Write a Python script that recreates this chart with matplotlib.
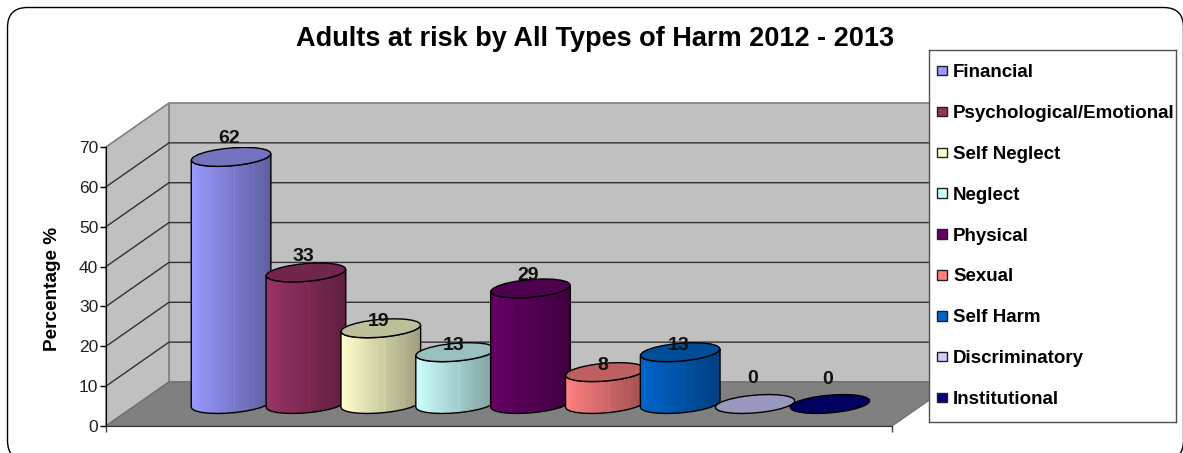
#!/usr/bin/env python3
import numpy as np
import matplotlib
matplotlib.use("Agg")
import matplotlib.pyplot as plt
from matplotlib.patches import FancyBboxPatch, Polygon, Rectangle

harm_types = ["Financial", "Psychological/Emotional", "Self Neglect", "Neglect",
              "Physical", "Sexual", "Self Harm", "Discriminatory", "Institutional"]
percentages = [62, 33, 19, 13, 29, 8, 13, 0, 0]
bar_colors = ["#9999FF", "#993366", "#FFFFCC", "#CCFFFF", "#660066",
              "#FF8080", "#0066CC", "#CCCCFF", "#000080"]
y_ticks = [0, 10, 20, 30, 40, 50, 60, 70]
# how far each value label sits above its cylinder top, in pixels
label_lift = [18.5, 15.5, 6.5, 6.5, 12.5, 6.5, 6.5, 25.5, 24.5]

W, H = 1183, 453
plt.rcParams["font.family"] = ["Liberation Sans", "DejaVu Sans"]

fig = plt.figure(figsize=(W / 100, H / 100), dpi=100, facecolor="white")

# outer rounded border, in pixel coordinates
bg = fig.add_axes([0, 0, 1, 1], zorder=0)
bg.set_xlim(0, W)
bg.set_ylim(H, 0)
bg.axis("off")
bg.add_patch(FancyBboxPatch((7.5, 7.5), 1176, 453, boxstyle="round,pad=0,rounding_size=20",
                            fc="white", ec="black", lw=1))

# front plane of the 3d box
ax = fig.add_axes([106 / W, 1 - 426 / H, 786 / W, 279 / H], zorder=1)
ax.patch.set_visible(False)
n_units = 10.5
DX = 63 / (786 / n_units)   # depth shift in bar units
DY = 44 / (279 / 70)        # depth shift in percentage units

wall = "#C0C0C0"
ax.add_patch(Polygon([(DX, DY), (DX + n_units, DY), (DX + n_units, DY + 70), (DX, DY + 70)],
                     fc=wall, ec="#808080", lw=1.2, clip_on=False, zorder=1))
ax.add_patch(Polygon([(0, 0), (DX, DY), (DX, DY + 70), (0, 70)],
                     fc=wall, ec="#808080", lw=1.2, clip_on=False, zorder=1))
ax.add_patch(Polygon([(0, 0), (n_units, 0), (n_units + DX, DY), (DX, DY)],
                     fc="#808080", ec="#707070", lw=1, clip_on=False, zorder=1))
for t in y_ticks[1:-1]:
    ax.plot([0, DX, DX + n_units], [t, t + DY, t + DY], color="#303030", lw=1,
            clip_on=False, zorder=2, solid_joinstyle="miter")

# cylinder geometry
RX = 0.5
SX = 0.182
SY = 2.38
t_edge = np.arctan(SX / RX)


def ellipse_xy(cx, cy, t):
    return cx + RX * np.cos(t) + SX * np.sin(t), cy + SY * np.sin(t)


def shade_strip(color, n=120):
    base = np.array(matplotlib.colors.to_rgb(color))
    u = np.linspace(0, 1, n)
    k = 1.0 - 0.38 * u
    for pos in (0.05, 0.54, 0.79):
        k = k + 0.05 * (np.abs(u - pos) < 0.007)
    return np.clip(base[None, None, :] * k[None, :, None], 0, 1)


for i, (val, col) in enumerate(zip(percentages, bar_colors)):
    cx = i + 1.25 + DX / 2
    y0 = DY / 2
    y1 = y0 + val
    z = 3 + i
    if val > 0:
        front = np.linspace(t_edge + np.pi, t_edge + 2 * np.pi, 14)
        bx, by = ellipse_xy(cx, y0, front)
        tx, ty = ellipse_xy(cx, y1, front[::-1])
        side = Polygon(np.column_stack([np.r_[bx, tx], np.r_[by, ty]]), fc="none",
                       ec="black", lw=1, zorder=z + 0.2)
        ax.add_patch(side)
        half = np.hypot(RX, SX)
        im = ax.imshow(shade_strip(col), extent=[cx - half, cx + half, y0 - SY, y1 + SY],
                       aspect="auto", interpolation="bilinear", zorder=z + 0.1)
        im.set_clip_path(side)
    top = np.array(matplotlib.colors.to_rgb(col)) * 0.75
    ex, ey = ellipse_xy(cx, y1, np.linspace(0, 2 * np.pi, 25))
    ax.add_patch(Polygon(np.column_stack([ex, ey]), fc=top, ec="black", lw=1, zorder=z + 0.3))
    ax.annotate(str(val), (cx, y1), xytext=(-1.5, label_lift[i] * 0.72), textcoords="offset points",
                ha="center", va="center", fontsize=14, fontweight="bold", color="#101010",
                zorder=20, annotation_clip=False)

ax.set_xlim(0, n_units)
ax.set_ylim(0, 70)
ax.set_yticks(y_ticks)
ax.set_xticks([0, n_units])
ax.set_xticklabels([])
ax.tick_params(axis="y", length=4, width=1, labelsize=12.5, pad=1.5, labelcolor="#202020")
ax.tick_params(axis="x", length=4, width=1, color="#404040")
for s in ("top", "right"):
    ax.spines[s].set_visible(False)
ax.spines["bottom"].set_color("#303030")
ax.set_ylabel("Percentage %", fontsize=13.7, fontweight="bold", labelpad=13, y=0.49)

fig.text(595 / W, 1 - 39 / H, "Adults at risk by All Types of Harm 2012 - 2013",
         ha="center", va="center", fontsize=19.5, fontweight="bold")

# legend box, one row per harm type
row_px = 40.9
leg = fig.add_axes([928.5 / W, 1 - 421.5 / H, 247 / W, 371.5 / H], zorder=5)
leg.set_xlim(0, 247)
leg.set_ylim(371.5 / row_px, 0)
leg.set_xticks([])
leg.set_yticks([])
for s in leg.spines.values():
    s.set_color("#505050")
    s.set_linewidth(1)
for i, (name, col) in enumerate(zip(harm_types, bar_colors)):
    leg.add_patch(Rectangle((8.5, i + 0.5 - 0.115), 9.5, 0.23, fc=col, ec="#202020", lw=1))
    leg.text(24.5, i + 0.66, name, ha="left", va="baseline", fontsize=13.5, fontweight="bold")

fig.savefig("out.png", dpi=100)
